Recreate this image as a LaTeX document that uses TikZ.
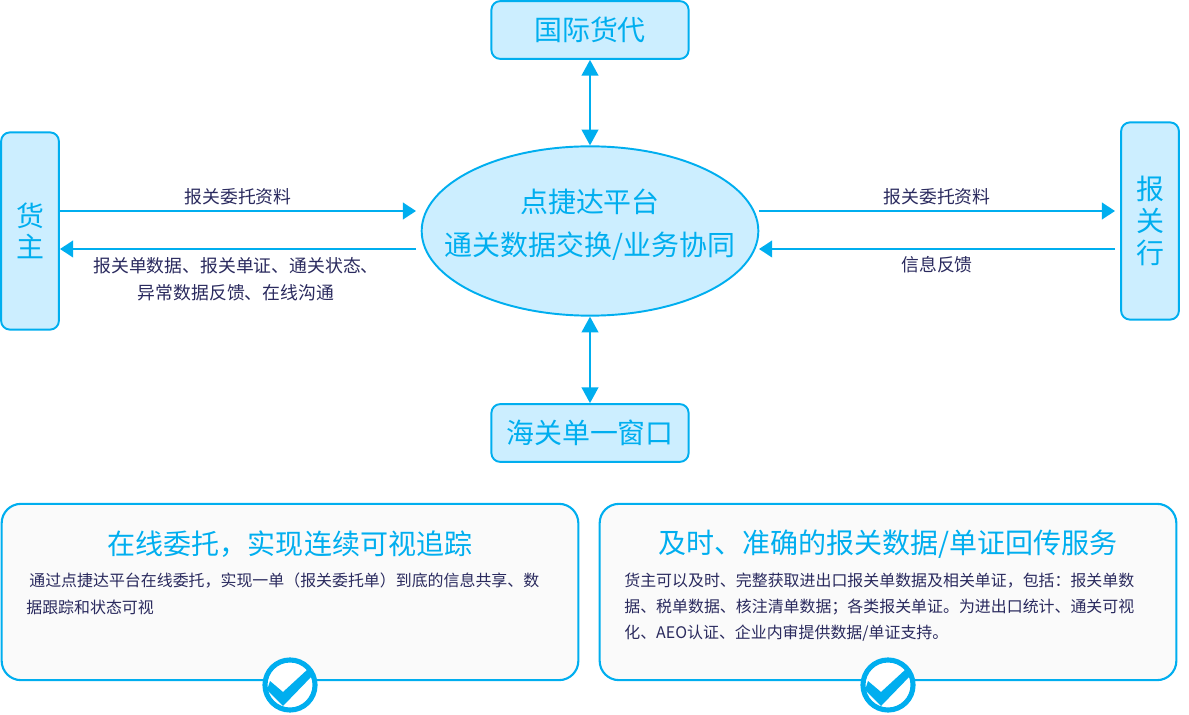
\documentclass[tikz,border=0pt]{standalone}
\usepackage{fontspec}
\setmainfont{Noto Sans CJK SC}
\usetikzlibrary{arrows.meta, shapes.geometric}
\definecolor{lineblue}{HTML}{00AEEF}
\definecolor{lightblue}{HTML}{CCEEFF}
\definecolor{panelgray}{HTML}{FAFAFA}
\definecolor{labelnavy}{HTML}{2A2A5E}
\tikzset{
  partybox/.style={draw=lineblue, fill=lightblue, line width=1.1pt, rounded corners=5pt, text=lineblue, align=center, inner sep=0pt},
  panelbox/.style={draw=lineblue, fill=panelgray, line width=1.2pt, rounded corners=11pt, inner sep=0pt},
  flow/.style={draw=lineblue, line width=1.2pt, -{Triangle[length=7.5pt,width=9.5pt]}},
  bothflow/.style={draw=lineblue, line width=1.2pt, {Triangle[length=9pt,width=9.5pt]}-{Triangle[length=9pt,width=9.5pt]}},
  flowlabel/.style={text=labelnavy, font=\fontsize{10.15}{15.5}\selectfont, align=center, inner sep=0pt},
  paneltitle/.style={text=lineblue, font=\fontsize{15.95}{18}\selectfont, inner sep=0pt},
  paneltext/.style={text=labelnavy, font=\fontsize{9.07}{15}\selectfont, inner sep=0pt, anchor=west},
  checkring/.style={circle, draw=lineblue, fill=white, line width=2.9pt, minimum size=28.5pt, inner sep=0pt}
}
\begin{document}
\begin{tikzpicture}[x=0.02cm, y=-0.02cm]
    \useasboundingbox (0, 0) rectangle (1189, 715);
    \node[partybox, minimum width=198*0.5669pt, minimum height=58*0.5669pt, font=\fontsize{15.9}{18}\selectfont] (forwarder) at (590, 30) {国际货代};
    \node[partybox, minimum width=198*0.5669pt, minimum height=58*0.5669pt, font=\fontsize{15.9}{18}\selectfont] (window) at (590, 433) {海关单一窗口};
    \node[partybox, minimum width=58*0.5669pt, minimum height=198*0.5669pt, font=\fontsize{15.9}{17.8}\selectfont] (owner) at (30, 231) {货\\主};
    \node[partybox, minimum width=58*0.5669pt, minimum height=198*0.5669pt, font=\fontsize{15.9}{18}\selectfont] (broker) at (1150, 221) {报\\关\\行};
    \node[ellipse, draw=lineblue, fill=lightblue, line width=1.1pt, minimum width=338*0.5669pt, minimum height=170*0.5669pt, inner sep=0pt] (platform) at (590, 231) {};
    \node[text=lineblue, font=\fontsize{15.9}{24.5}\selectfont, align=center, inner sep=0pt] (platformtext) at (590, 225) {点捷达平台\\通关数据交换/业务协同};

    \coordinate (ownerout) at (60, 211);
    \coordinate (ownerin) at (60, 249);
    \coordinate (platformwestin) at (416, 211);
    \coordinate (platformwestout) at (416, 249);
    \coordinate (platformeastout) at (759, 211);
    \coordinate (platformeastin) at (759, 249);
    \coordinate (brokerin) at (1115, 211);
    \coordinate (brokerout) at (1115, 249);

    % arrows
    \draw[flow] (ownerout) -- (platformwestin);
    \draw[flow] (platformwestout) -- (ownerin);
    \draw[flow] (platformeastout) -- (brokerin);
    \draw[flow] (brokerout) -- (platformeastin);
    \draw[bothflow] (forwarder) -- (platform);
    \draw[bothflow] (platform) -- (window);

    \node[flowlabel] (ownerup) at (238, 197) {报关委托资料};
    \node[flowlabel] (ownerdown) at (236, 279) {报关单数据、报关单证、通关状态、\\异常数据反馈、在线沟通};
    \node[flowlabel] (brokerup) at (937, 197) {报关委托资料};
    \node[flowlabel] (brokerdown) at (937, 265) {信息反馈};

    \node[panelbox, minimum width=579*0.5669pt, minimum height=177*0.5669pt] (leftpanel) at (290, 592) {};
    \node[panelbox, minimum width=579*0.5669pt, minimum height=177*0.5669pt] (rightpanel) at (888, 592) {};

    \node[paneltitle] (lefttitle) at (290, 544) {在线委托，实现连续可视追踪};
    \node[paneltext] (leftlinea) at (29, 581) {通过点捷达平台在线委托，实现一单（报关委托单）到底的信息共享、数};
    \node[paneltext] (leftlineb) at (26, 607) {据跟踪和状态可视};
    \node[paneltitle] (righttitle) at (888, 544) {及时、准确的报关数据/单证回传服务};
    \node[paneltext] (rightlinea) at (624, 581) {货主可以及时、完整获取进出口报关单数据及相关单证，包括：报关单数};
    \node[paneltext] (rightlineb) at (624, 607) {据、税单数据、核注清单数据；各类报关单证。为进出口统计、通关可视};
    \node[paneltext] (rightlinec) at (624, 633) {化、AEO认证、企业内审提供数据/单证支持。};

    \node[checkring] (leftcheck) at (290, 685) {};
    \node[checkring] (rightcheck) at (888, 685) {};
    \fill[lineblue] (267, 690) -- (270, 681) -- (283, 692) -- (308, 669) -- (313, 675) -- (283, 706) -- cycle;
    \fill[lineblue] (865, 690) -- (868, 681) -- (881, 692) -- (906, 669) -- (911, 675) -- (881, 706) -- cycle;
\end{tikzpicture}
\end{document}
